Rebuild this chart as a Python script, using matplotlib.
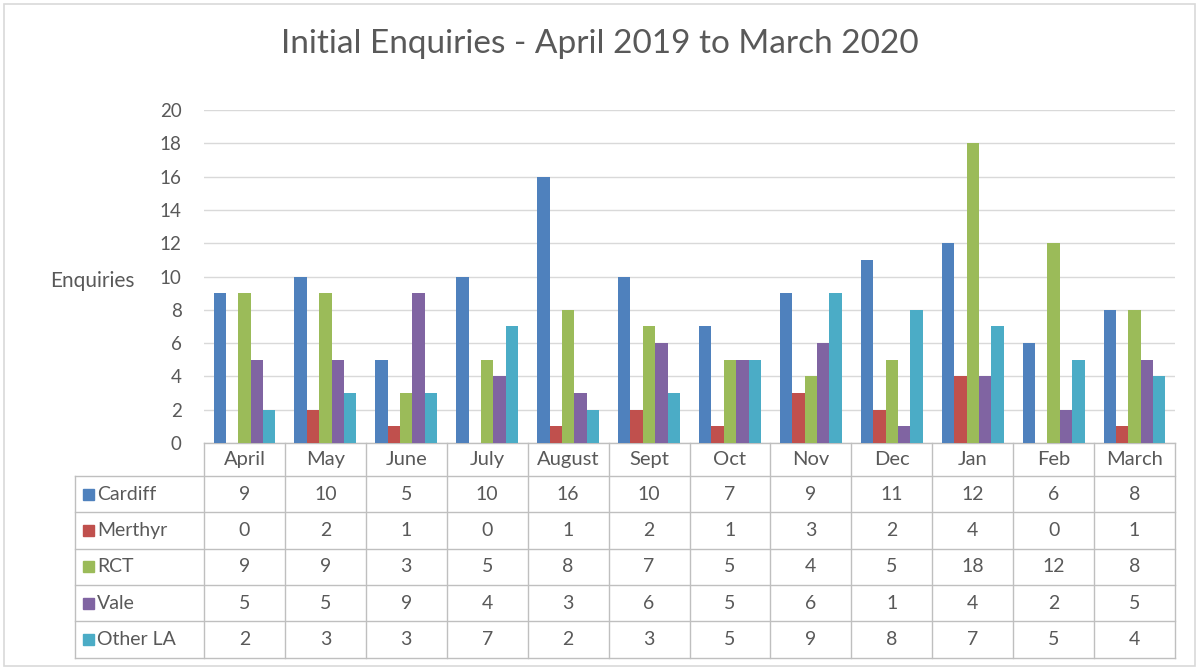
import matplotlib.pyplot as plt
import matplotlib.transforms as mtransforms
from matplotlib.patches import Rectangle
import numpy as np

plt.rcParams['font.family'] = ['Lato', 'DejaVu Sans']

months = ['April', 'May', 'June', 'July', 'August', 'Sept', 'Oct', 'Nov', 'Dec', 'Jan', 'Feb', 'March']
areas = ['Cardiff', 'Merthyr', 'RCT', 'Vale', 'Other LA']
cardiff = [9, 10, 5, 10, 16, 10, 7, 9, 11, 12, 6, 8]
merthyr = [0, 2, 1, 0, 1, 2, 1, 3, 2, 4, 0, 1]
rct = [9, 9, 3, 5, 8, 7, 5, 4, 5, 18, 12, 8]
vale = [5, 5, 9, 4, 3, 6, 5, 6, 1, 4, 2, 5]
other_la = [2, 3, 3, 7, 2, 3, 5, 9, 8, 7, 5, 4]
series = [cardiff, merthyr, rct, vale, other_la]
colors = ['#4F81BD', '#C0504D', '#9BBB59', '#8064A2', '#4BACC6']

txt = '#595959'
grid = '#D9D9D9'

fig = plt.figure(figsize=(11.99, 6.70), dpi=100)
ax = fig.add_axes([204 / 1199, 1 - 443 / 670, 971 / 1199, 333 / 670])

x = np.arange(len(months))
w = 0.153
for k, (vals, c) in enumerate(zip(series, colors)):
    ax.bar(x + (k - 2) * w, vals, w, color=c, zorder=3)

ax.set_xlim(-0.5, len(months) - 0.5)
ax.set_ylim(0, 20)
ax.set_yticks(range(0, 21, 2))
ax.yaxis.grid(True, color=grid, lw=1, zorder=0)
ax.set_xticks([])
for s in ax.spines.values():
    s.set_visible(False)
ax.tick_params(axis='y', length=0, pad=16, labelsize=13.5, labelcolor=txt)
ax.set_ylabel('Enquiries', rotation=0, fontsize=15, color=txt, va='center')
ax.yaxis.set_label_coords(-0.115, 0.487)

fig.suptitle('Initial Enquiries - April 2019 to March 2020', fontsize=24, color=txt, y=0.957)

# data table under the axes
trans = mtransforms.blended_transform_factory(ax.transData, ax.transAxes)
px = 1 / 333
head_h = 33 * px
row_h = 36.3 * px
tops = [0, -head_h] + [-head_h - row_h * (r + 1) for r in range(len(areas))]
left_x = -0.5 - (204 - 75) / 81
lc = '#BFBFBF'

# header row
for i, m in enumerate(months):
    ax.text(i, -head_h / 2, m, transform=trans, ha='center', va='center',
            fontsize=14.5, color=txt, clip_on=False)
ax.plot([-0.5, len(months) - 0.5], [0, 0], transform=trans, color=lc, lw=1, clip_on=False)
for i in range(len(months) + 1):
    ax.plot([i - 0.5, i - 0.5], [0, tops[-1]], transform=trans, color=lc, lw=1, clip_on=False)
ax.plot([left_x, left_x], [tops[1], tops[-1]], transform=trans, color=lc, lw=1, clip_on=False)
for t in tops[1:]:
    ax.plot([left_x, len(months) - 0.5], [t, t], transform=trans, color=lc, lw=1, clip_on=False)

for r, (name, vals, c) in enumerate(zip(areas, series, colors)):
    yc = tops[r + 1] - row_h / 2
    ax.add_patch(Rectangle((left_x + 0.1, yc - 5.5 * px), 11 / 81, 11 * px,
                           transform=trans, color=c, clip_on=False))
    ax.text(left_x + 0.27, yc, name, transform=trans, ha='left', va='center',
            fontsize=14, color=txt, clip_on=False)
    for i, v in enumerate(vals):
        ax.text(i, yc, str(v), transform=trans, ha='center', va='center',
                fontsize=14, color=txt, clip_on=False)

fig.patches.append(Rectangle((4 / 1199, 4 / 670), 1191 / 1199, 662 / 670,
                             transform=fig.transFigure, fill=False,
                             edgecolor='#D9D9D9', lw=1.2))

fig.savefig('out.png', dpi=100)
